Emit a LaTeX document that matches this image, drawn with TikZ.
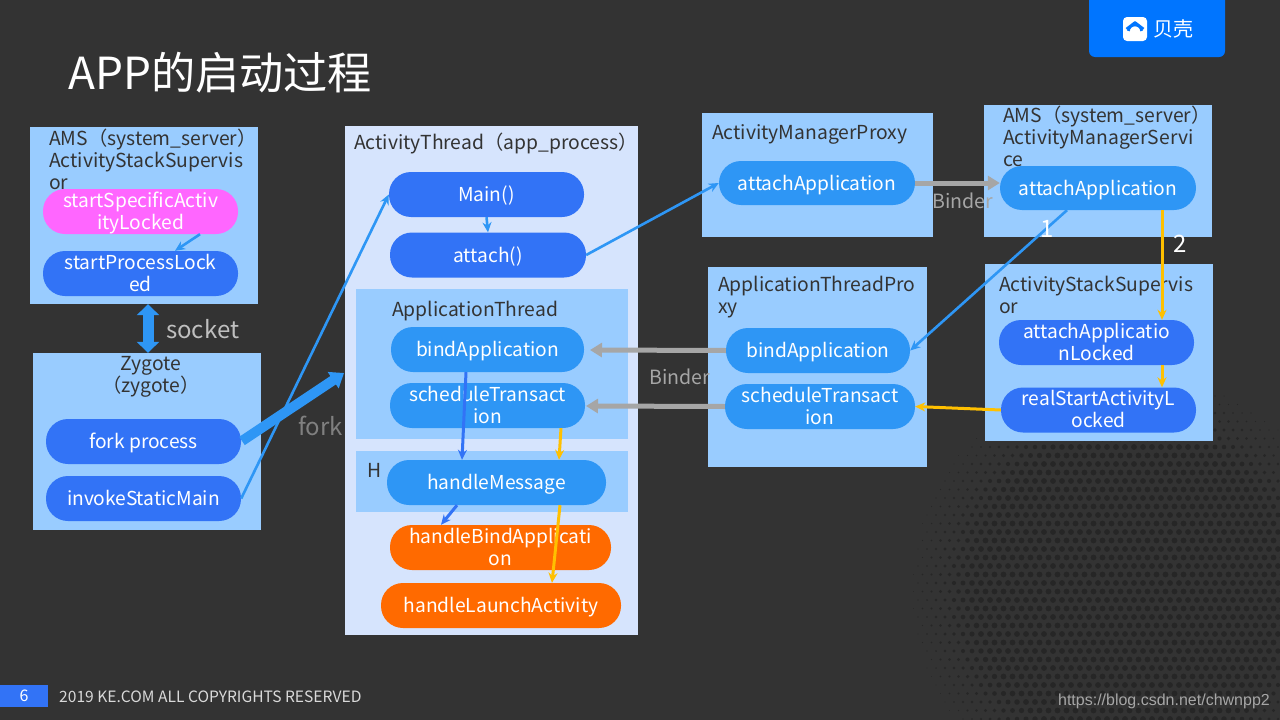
\documentclass[tikz,border=0pt]{standalone}
\usepackage{fontspec}
\setmainfont{Noto Sans CJK SC}
\newfontfamily\urlfont{Liberation Sans}
\usetikzlibrary{arrows.meta}
\definecolor{slide}{HTML}{333333}
\definecolor{halftone}{HTML}{262626}
\definecolor{panel}{HTML}{99CCFF}
\definecolor{paleblue}{HTML}{D6E4FD}
\definecolor{royal}{HTML}{3273F6}
\definecolor{sky}{HTML}{2E96F5}
\definecolor{tangerine}{HTML}{FF6A00}
\definecolor{pink}{HTML}{FF66FF}
\definecolor{amber}{HTML}{FFC000}
\definecolor{ash}{HTML}{A6A6A6}
\definecolor{brand}{HTML}{0075FF}
\tikzset{
  box/.style={rectangle,fill=panel,inner sep=0pt},
  boxtitle/.style={inner sep=0pt,anchor=north west,align=left,text=slide,font=\fontsize{19.3}{22}\selectfont},
  pill/.style={rectangle,rounded corners=22pt,fill=royal,text=white,minimum width=195pt,minimum height=45pt,
    inner sep=0pt,align=center,font=\fontsize{19.2}{22}\selectfont,
    execute at begin node={\rule{0pt}{19pt}},execute at end node={\rule[-5pt]{0pt}{5pt}}},
  twolines/.style={execute at begin node={\rule{0pt}{40pt}}},
  skypill/.style={pill,fill=sky},
  orangepill/.style={pill,fill=tangerine},
  skyedge/.style={-{Stealth[length=10pt,width=9pt]},line width=2.6pt,color=sky},
  royaledge/.style={-{Stealth[length=10pt,width=9pt]},line width=3pt,color=royal},
  amberedge/.style={-{Stealth[length=10pt,width=9pt]},line width=3pt,color=amber},
  binderedge/.style={-{Triangle[length=12pt,width=14pt]},line width=5pt,color=ash},
  graylabel/.style={inner sep=0pt,text=ash,font=\fontsize{19.6}{22}\selectfont},
}
\begin{document}
\begin{tikzpicture}[x=1pt,y=-1pt]
  \useasboundingbox (0,0) rectangle (1280,720);
  \fill[slide] (0,0) rectangle (1280,720);
  % halftone disc behind the right part
  \foreach \i in {0,...,42}{
    \foreach \j in {0,...,44}{
      \pgfmathsetmacro{\dotx}{900+\j*9+mod(\i,2)*4.5}
      \pgfmathsetmacro{\doty}{362+\i*8.5}
      \pgfmathsetmacro{\dotd}{veclen(\dotx-1130,\doty-590)}
      \pgfmathsetmacro{\dotr}{\dotd<218 ? min(2.9,0.4+(218-\dotd)/25) : 0}
      \ifdim\dotr pt>0.1pt
        \fill[halftone] (\dotx,\doty) circle (\dotr pt);
      \fi
    }
  }
  % header and footer
  \node[inner sep=0pt,anchor=west,text=white,font=\fontsize{44.2}{50}\selectfont] (title) at (68,73){APP的启动过程};
  \fill[brand,rounded corners=6pt] (1089,-12) rectangle (1225,57);
  \node[rectangle,rounded corners=4pt,fill=white,minimum size=24pt,inner sep=0pt] (logoicon) at (1135,29){};
  \draw[brand,line width=2.6pt,line join=round] (1126.5,29) -- (1135,22.5) -- (1143.5,29);
  \draw[brand,line width=2.6pt] (1128.5,31) arc[start angle=180,end angle=360,x radius=6.5pt,y radius=-6pt];
  \node[inner sep=0pt,text=white,font=\fontsize{20}{24}\selectfont] (logotext) at (1173,29){贝壳};
  \node[rectangle,fill=royal,minimum width=48pt,minimum height=22pt,inner sep=0pt,text=white,font=\fontsize{16}{18}\selectfont] (pagenum) at (24,696){6};
  \node[inner sep=0pt,anchor=west,text=white!85!black,font=\fontsize{15.6}{18}\selectfont] (copyright) at (59,697){2019 KE.COM ALL COPYRIGHTS RESERVED};
  \node[inner sep=0pt,anchor=east,text=ash,font=\urlfont\fontsize{16}{18}\selectfont] (csdn) at (1270,701){https://blog.csdn.net/chwnpp2};

  % panels
  \node[box,minimum width=228pt,minimum height=177pt] (amsleft) at (144,215.5){};
  \node[box,minimum width=228pt,minimum height=177pt] (zygote) at (147,441.5){};
  \node[box,fill=paleblue,minimum width=293pt,minimum height=509pt] (thread) at (491.5,380.5){};
  \node[box,minimum width=272pt,minimum height=150pt] (appthread) at (492,364){};
  \node[box,minimum width=272pt,minimum height=61pt] (hbox) at (492,481.5){};
  \node[box,minimum width=231pt,minimum height=124pt] (amproxy) at (817.5,175){};
  \node[box,minimum width=228pt,minimum height=132pt] (amservice) at (1098,171){};
  \node[box,minimum width=219pt,minimum height=200pt] (atproxy) at (817.5,367){};
  \node[box,minimum width=228pt,minimum height=177pt] (supervisor) at (1099,352.5){};

  % panel titles
  \node[boxtitle] (amslefttitle) at (49,129){AMS（system\_server）\\ActivityStackSupervis\\or};
  \node[boxtitle,align=center,anchor=north] (zygotetitle) at (151,356.5){Zygote\\（zygote）};
  \node[boxtitle] (threadtitle) at (354,133){ActivityThread（app\_process）};
  \node[boxtitle] (appthreadtitle) at (392,300.5){ApplicationThread};
  \node[boxtitle] (htitle) at (367,463.5){H};
  \node[boxtitle] (amproxytitle) at (712,124){ActivityManagerProxy};
  \node[boxtitle] (amservicetitle) at (1003,105.5){AMS（system\_server）\\ActivityManagerServi\\ce};
  \node[boxtitle] (atproxytitle) at (718,275.5){ApplicationThreadPro\\xy};
  \node[boxtitle] (supervisortitle) at (999,275.5){ActivityStackSupervis\\or};

  % calls
  \node[pill,twolines,fill=pink] (specific) at (140.5,211.5){startSpecificActiv\\ityLocked};
  \node[pill,twolines] (process) at (140.5,273.5){startProcessLock\\ed};
  \node[pill] (forkproc) at (143.5,441.5){fork process};
  \node[pill] (invoke) at (143.5,498.5){invokeStaticMain};
  \node[pill] (mainfn) at (486.5,194.5){Main()};
  \node[pill,minimum width=196pt] (attachfn) at (488,255){attach()};
  \node[skypill,minimum width=193pt] (bindthread) at (487.5,349.5){bindApplication};
  \node[skypill,twolines] (schedthread) at (487.5,405.5){scheduleTransact\\ion};
  \node[skypill,minimum width=219pt] (handlemsg) at (496.5,482.5){handleMessage};
  \node[orangepill,twolines,minimum width=221pt] (handlebind) at (500.5,547.5){handleBindApplicati\\on};
  \node[orangepill,minimum width=240pt] (handlelaunch) at (501,605.5){handleLaunchActivity};
  \node[skypill,minimum width=196pt,minimum height=44pt] (attachproxy) at (817,183){attachApplication};
  \node[skypill,minimum width=196pt,minimum height=44pt] (attachams) at (1098,188){attachApplication};
  \node[skypill,minimum width=184pt] (bindproxy) at (818,350.5){bindApplication};
  \node[skypill,twolines,minimum width=190pt] (schedproxy) at (820,406.5){scheduleTransact\\ion};
  \node[pill,twolines] (attachlocked) at (1096.5,342.5){attachApplicatio\\nLocked};
  \node[pill,twolines] (realstart) at (1098.5,410){realStartActivityL\\ocked};

  % free ends
  \coordinate (forkend) at (344,373);
  \coordinate (bindstop) at (590,350);
  \coordinate (schedstop) at (586,406);

  % connectors
  \draw[skyedge] (specific.south -| 200,0)--(process.north -| 175,0);
  \draw[{Triangle[length=11pt,width=22pt]}-{Triangle[length=11pt,width=22pt]},line width=11pt,color=sky] (amsleft.south -| 148,0)--(zygote.north -| 148,0);
  \draw[-{Triangle[length=13pt,width=19pt]},line width=10pt,color=sky,shorten <=1pt] (forkproc.east)--(forkend);
  \draw[skyedge] (invoke.east)--(mainfn.west);
  \draw[skyedge] (mainfn.south)--(attachfn.north);
  \draw[skyedge] (attachfn.east)--(attachproxy.west);
  \draw[binderedge] (attachproxy.east)--(attachams.west |- attachproxy.east);
  \draw[skyedge] (attachams.south -| 1067,0)--(bindproxy.east);
  \draw[amberedge] (attachams.south -| 1162,0)--(attachlocked.north -| 1162,0);
  \draw[amberedge] (attachlocked.south -| 1162,0)--(realstart.north -| 1162,0);
  \draw[amberedge] (realstart.west)--(schedproxy.east);
  \draw[binderedge] (bindproxy.west)--(bindstop);
  \draw[binderedge] (schedproxy.west)--(schedstop);
  \draw[royaledge] (bindthread.south -| 466,0)--(handlemsg.north -| 462,0);
  \draw[amberedge] (schedthread.south -| 561,0)--(handlemsg.north -| 559,0);
  \draw[royaledge] (handlemsg.south -| 457,0)--(handlebind.north -| 441,0);
  \draw[amberedge] (handlemsg.south -| 560,0)--(handlelaunch.north -| 552,0);

  % connector labels
  \node[graylabel,anchor=west,text=white!75!black,font=\fontsize{24}{28}\selectfont] (socket) at (166,329){socket};
  \node[graylabel,anchor=west,text=white!50!black,font=\fontsize{24}{28}\selectfont] (forklabel) at (298,426){fork};
  \node[graylabel,anchor=west] (binderone) at (932,201){Binder};
  \node[graylabel,anchor=west] (bindertwo) at (649,377){Binder};
  \node[inner sep=0pt,text=white,font=\fontsize{24}{26}\selectfont] (stepone) at (1047,229){1};
  \node[inner sep=0pt,text=white,font=\fontsize{24}{26}\selectfont] (steptwo) at (1180,244){2};
\end{tikzpicture}
\end{document}
